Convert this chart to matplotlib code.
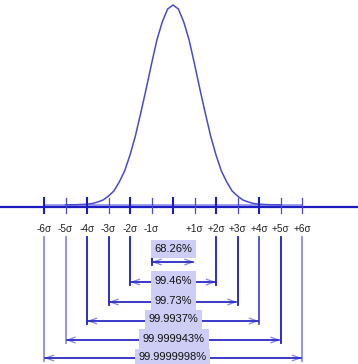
import matplotlib
matplotlib.use("Agg")
import matplotlib.pyplot as plt
import numpy as np

# ---- data ----
# curve: offsets in sigma units and heights (px above baseline), symmetric
curve_offsets = [0, 0.25, 0.5, 0.75, 1.0, 1.25, 1.5, 1.75, 2.0, 2.25, 2.5, 2.75,
                 3.0, 3.25, 3.5, 3.75, 4.0, 4.5, 5.0]
curve_heights = [200, 196, 183, 165, 141, 116, 92, 69, 50, 34, 23, 14,
                 9, 5, 3, 1.5, 0.8, 0.3, 0.2]

tick_positions = [-6, -5, -4, -3, -2, -1, 0, 1, 2, 3, 4, 5, 6]
tick_labels = ["-6σ", "-5σ", "-4σ", "-3σ", "-2σ", "-1σ", "",
               "+1σ", "+2σ", "+3σ", "+4σ", "+5σ", "+6σ"]

range_sigmas = [1, 2, 3, 4, 5, 6]
range_labels = ["68.26%", "99.46%", "99.73%", "99.9937%", "99.999943%", "99.9999998%"]

# ---- style / layout ----
DARK = "#1c1cc0"
MID = "#4a4ad0"
LIGHT = "#8c8ce6"
BOX = "#cdcdf5"

W, H = 358, 364
fig = plt.figure(figsize=(W / 100, H / 100), dpi=100)
ax = fig.add_axes([0, 0, 1, 1])
px = 21.5  # pixels per sigma
x0 = 173
base = 205
ax.set_xlim(-x0 / px, (W - x0) / px)
ax.set_ylim(-(H - base), base)
ax.axis("off")

# curve
xs = [-o for o in curve_offsets[::-1]] + curve_offsets[1:]
ys = curve_heights[::-1] + curve_heights[1:]
ax.plot([-6, 6], [0, 0], color=LIGHT, lw=1.2, zorder=2)
ax.plot(xs, ys, color=MID, lw=1.1, zorder=3)

# axis line
ax.plot([-x0 / px, (W - x0) / px], [-2, -2], color=DARK, lw=1.6, zorder=4)

# ticks
bold_ticks = {-6, -4, -2, 0, 2, 4}
for t, lab in zip(tick_positions, tick_labels):
    if t in bold_ticks:
        ax.plot([t, t], [7, -8], color=DARK, lw=1.5, zorder=5)
    else:
        ax.plot([t, t], [7, -8], color=MID, lw=0.9, zorder=5)
    if lab:
        ax.text(t, -24, lab, ha="center", va="center", fontsize=7.2,
                family="Liberation Sans", color="#222222")

# range brackets
arrow_y = [-57, -77, -97, -116, -135, -153]
box_x = [(-1.02, 1.07), (-1.02, 1.07), (-1.02, 1.07), (-1.30, 1.35),
         (-1.58, 1.67), (-1.77, 1.72)]
box_y = [(-53, -35), (-87, -66), (-106, -87), (-124, -105), (-144, -124), (-161, -144)]
vert_col = {-6: LIGHT, -5: LIGHT, -4: DARK, -3: DARK, -2: DARK, -1: DARK,
            2: DARK, 3: DARK, 4: MID, 5: DARK, 6: LIGHT}

for s, lab, ay, bx, by in zip(range_sigmas, range_labels, arrow_y, box_x, box_y):
    # verticals
    top_l = -40 if s == 1 else -32
    ax.plot([-s, -s], [top_l, ay - 3], color=vert_col[-s], lw=1.3, zorder=2)
    if s != 1:
        ax.plot([s, s], [-32, ay - 3], color=vert_col[s], lw=1.3, zorder=2)
    # arrow heads
    ax.annotate("", xy=(-s, ay), xytext=(s, ay),
                arrowprops=dict(arrowstyle="<->,head_length=0.55,head_width=0.2",
                                color=LIGHT, lw=1.0, shrinkA=0, shrinkB=0), zorder=3)
    ax.plot([-s + 0.05, s - 0.05], [ay, ay], color=DARK, lw=1.1, zorder=3)
    # box
    ax.fill_between([bx[0], bx[1]], by[0], by[1], color=BOX, lw=0, zorder=4)
    ax.text((bx[0] + bx[1]) / 2, (by[0] + by[1]) / 2, lab, ha="center", va="center",
            fontsize=8, family="Liberation Sans", color="#111111", zorder=5)

fig.savefig("out.png", dpi=100)
